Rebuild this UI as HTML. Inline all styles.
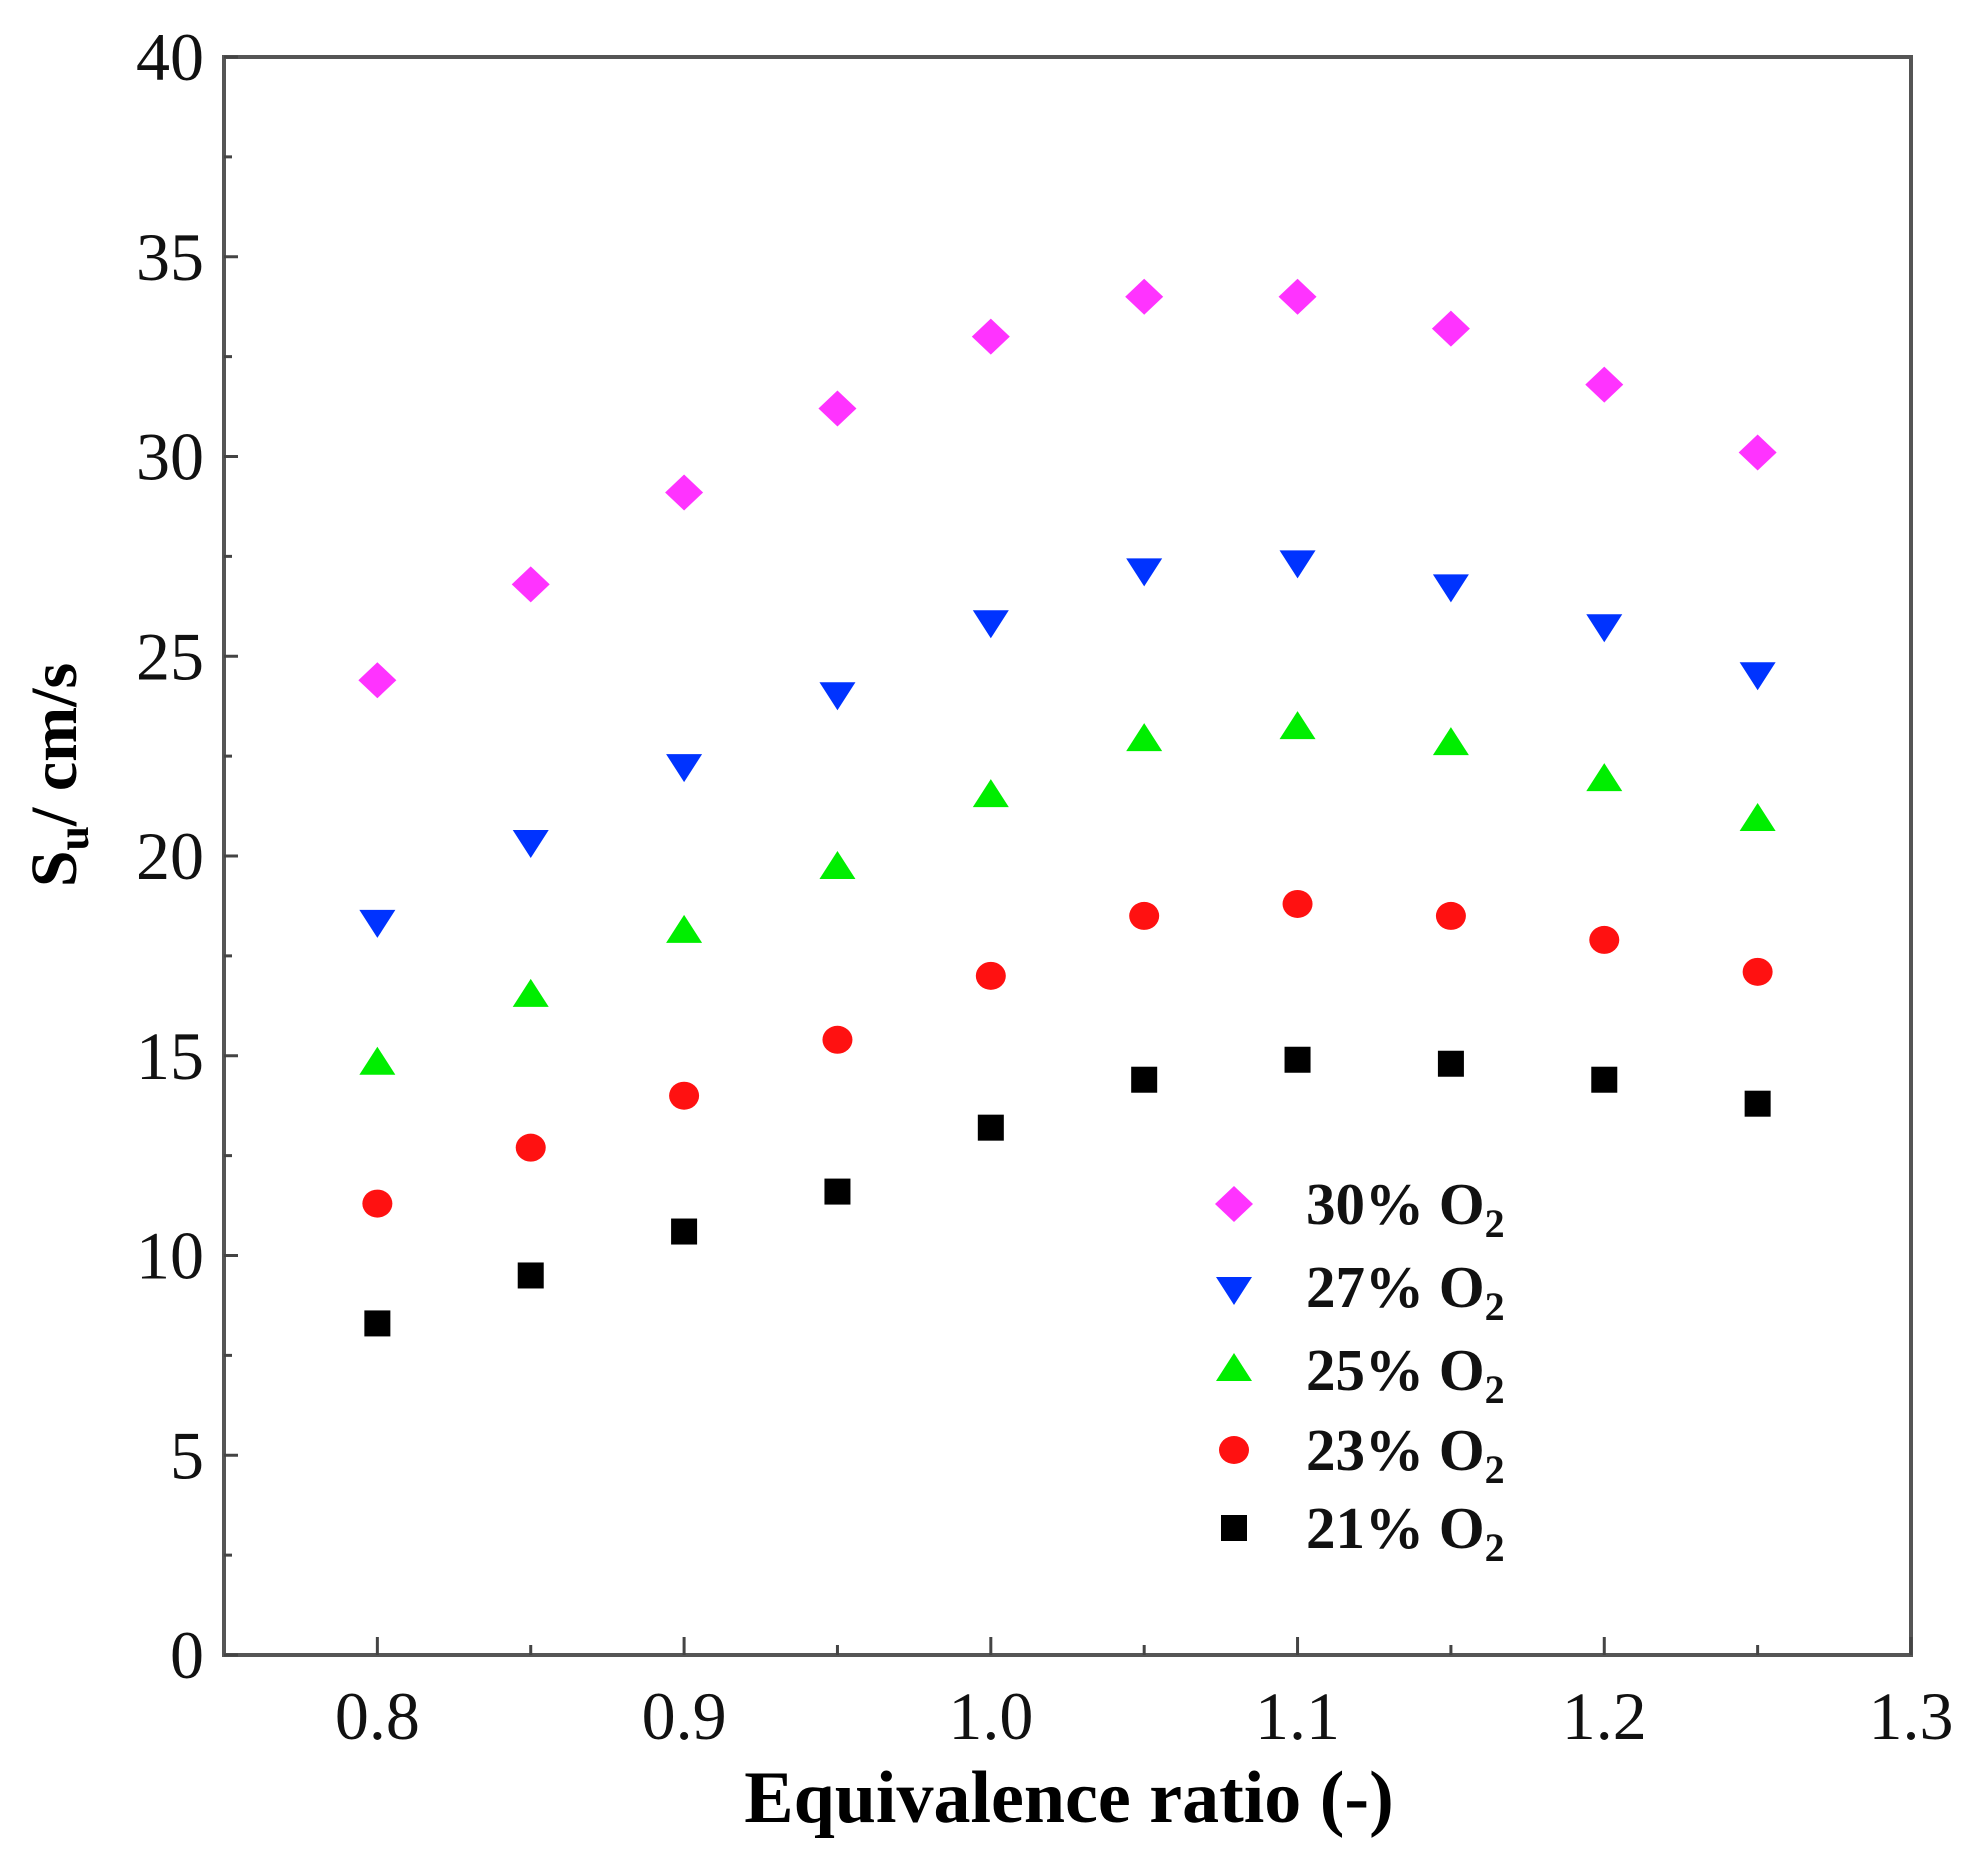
<!DOCTYPE html>
<html><head><meta charset="utf-8"><style>
html,body{margin:0;padding:0;background:#fff;}
svg{display:block;font-family:"Liberation Serif",serif;}
</style></head><body>
<svg id="chart" width="1977" height="1853" viewBox="0 0 1977 1853">
<g id="axes"></g>
<g id="marks"></g>
<g id="legend"></g>
<text x="1069" y="1822" text-anchor="middle" font-size="74" font-weight="bold">Equivalence ratio (-)</text>
<text transform="translate(76,775) rotate(-90)" text-anchor="middle" font-size="66" font-weight="bold">S<tspan font-size="44" dy="12">u</tspan><tspan dy="-12">/ cm/s</tspan></text>
</svg>
<script>
const xCats = [0.80, 0.85, 0.90, 0.95, 1.00, 1.05, 1.10, 1.15, 1.20, 1.25];
const s30 = [24.4, 26.8, 29.1, 31.2, 33.0, 34.0, 34.0, 33.2, 31.8, 30.1];
const s27 = [18.4, 20.4, 22.3, 24.1, 25.9, 27.2, 27.4, 26.8, 25.8, 24.6];
const s25 = [14.8, 16.5, 18.1, 19.7, 21.5, 22.9, 23.2, 22.8, 21.9, 20.9];
const s23 = [11.3, 12.7, 14.0, 15.4, 17.0, 18.5, 18.8, 18.5, 17.9, 17.1];
const s21 = [8.3, 9.5, 10.6, 11.6, 13.2, 14.4, 14.9, 14.8, 14.4, 13.8];
const xTicks = [0.8, 0.9, 1.0, 1.1, 1.2, 1.3];
const xTickLabels = ["0.8", "0.9", "1.0", "1.1", "1.2", "1.3"];
const yTicks = [0, 5, 10, 15, 20, 25, 30, 35, 40];
const seriesNames = ["30% O", "27% O", "25% O", "23% O", "21% O"];

const NS = "http://www.w3.org/2000/svg";
const L = 224, R = 1911, T = 57, B = 1655;
const X0 = 0.75, X1 = 1.30, Y0 = 0, Y1 = 40;
function xs(v){ return L + (v - X0) / (X1 - X0) * (R - L); }
function ys(v){ return B - (v - Y0) / (Y1 - Y0) * (B - T); }
function mk(tag, attrs, parent){
  const e = document.createElementNS(NS, tag);
  for (const k in attrs) e.setAttribute(k, attrs[k]);
  parent.appendChild(e);
  return e;
}
const axes = document.getElementById('axes');
const frame = mk('rect', {x:L, y:T, width:R-L, height:B-T, fill:'none', stroke:'#555', 'stroke-width':4}, axes);


for (let v = 0; v <= 40; v += 2.5) {
  const major = (v % 5 === 0);
  const t = mk('line', {x1:L, x2:L + (major ? 14 : 8), y1:ys(v), y2:ys(v), stroke:'#444', 'stroke-width':3}, axes);
  
  
}
yTicks.forEach(v => {
  const t = mk('text', {x:204, y:ys(v) + 23, 'text-anchor':'end', 'font-size':68, fill:'#111'}, axes);
  t.textContent = String(v);
  
  
});
for (let i = 0; i <= 10; i++) {
  const v = 0.8 + i * 0.05;
  const major = (i % 2 === 0);
  const t = mk('line', {x1:xs(v), x2:xs(v), y1:B, y2:B - (major ? 18 : 10), stroke:'#444', 'stroke-width':3}, axes);
  
  
}
xTicks.forEach((v, i) => {
  const t = mk('text', {x:xs(v), y:1739, 'text-anchor':'middle', 'font-size':68, fill:'#111'}, axes);
  t.textContent = xTickLabels[i];
  
  
});
function marker(type, cx, cy, parent){
  let e;
  if (type === 'diamond') e = mk('polygon', {points:`${cx},${cy-18} ${cx+19},${cy} ${cx},${cy+18} ${cx-19},${cy}`, fill:'#ff33ff'}, parent);
  else if (type === 'down') e = mk('polygon', {points:`${cx-18},${cy-10} ${cx+18},${cy-10} ${cx},${cy+18}`, fill:'#0033ff'}, parent);
  else if (type === 'up') e = mk('polygon', {points:`${cx-18},${cy+11} ${cx+18},${cy+11} ${cx},${cy-17}`, fill:'#00ee00'}, parent);
  else if (type === 'circle') e = mk('ellipse', {cx:cx, cy:cy, rx:15, ry:14, fill:'#ff1111'}, parent);
  else e = mk('rect', {x:cx-13, y:cy-13, width:26, height:26, fill:'#000'}, parent);
  return e;
}
const series = [s30, s27, s25, s23, s21];
const types = ['diamond', 'down', 'up', 'circle', 'square'];
const marks = document.getElementById('marks');
series.forEach((arr, si) => {
  arr.forEach((v, i) => {
    const m = marker(types[si], xs(xCats[i]), ys(v), marks);
    
    
  });
});
const legend = document.getElementById('legend');
const legY = [1204, 1287, 1370, 1450, 1528];
seriesNames.forEach((n, i) => {
  const m = marker(types[i], 1234, legY[i], legend);
  
  
  const t = mk('text', {x:1306, y:legY[i] + 20, 'font-size':59, 'font-weight':'bold', fill:'#111'}, legend);
  t.textContent = n;
  const s = mk('tspan', {'font-size':40, dy:13}, t);
  s.textContent = '2';
  
  
});
</script>
</body></html>
